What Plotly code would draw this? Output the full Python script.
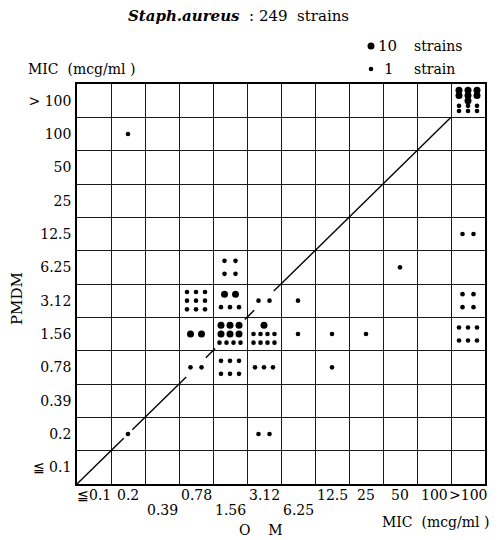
import plotly.graph_objects as go

# MIC levels (mcg/ml) shared by both axes, lowest first
mic_levels = ["≦0.1", "0.2", "0.39", "0.78", "1.56", "3.12", "6.25",
              "12.5", "25", "50", "100", ">100"]
x_tick_labels = ["≦0.1", "0.2", "0.39", "0.78", "1.56", "3.12", "6.25",
                 "12.5", "25", "50", "100", ">100"]
y_tick_labels = ["≦ 0.1", "0.2", "0.39", "0.78", "1.56", "3.12", "6.25",
                 "12.5", "25", "50", "100", "> 100"]

# one entry per occupied cell: OM MIC, PMDM MIC, number of strains
om_mic = ["0.2", "0.2", "3.12", "1.56", "0.78", "1.56", "3.12", "6.25", "50",
          ">100", ">100", "0.78", "1.56", "3.12", "6.25", "12.5", "25", ">100",
          "0.78", "1.56", "3.12", "12.5", ">100"]
pmdm_mic = ["100", "0.2", "0.2", "6.25", "3.12", "3.12", "3.12", "3.12", "6.25",
            "12.5", "3.12", "1.56", "1.56", "1.56", "1.56", "1.56", "1.56", "1.56",
            "0.78", "0.78", "0.78", "0.78", ">100"]
strains = [1, 1, 2, 4, 9, 23, 2, 1, 1,
           2, 4, 20, 64, 18, 1, 1, 1, 6,
           2, 6, 3, 1, 76]

# geometry of the plotting area (px)
W, H = 501, 540
L, R, T, B = 77, 16, 84, 56
PLOT_W = W - L - R
PLOT_H = H - T - B
N = len(mic_levels)
CELL_W = PLOT_W / N
CELL_H = PLOT_H / N

BIG, SMALL = 7.0, 4.6      # marker diameters: 10 strains / 1 strain
H_PITCH = {1: 0, 2: 11, 3: 9, 4: 7}


def dot_rows(n):
    big, small = divmod(n, 10)
    rows = []
    for i in range(0, big, 3):
        rows.append(("big", min(3, big - i)))
    if small:
        if big:
            per = 4 if small in (4, 8) else 3
        else:
            per = 2 if small == 4 else 3
        for i in range(0, small, per):
            rows.append(("small", min(per, small - i)))
    return rows


def dot_offsets(n):
    rows = dot_rows(n)
    pitch = 26 / len(rows)
    out = []
    for r, (kind, k) in enumerate(rows):
        dy = ((len(rows) - 1) / 2 - r) * pitch
        for j in range(k):
            dx = (j - (k - 1) / 2) * H_PITCH[k]
            out.append((kind, dx, dy))
    return out


big_x, big_y, small_x, small_y = [], [], [], []
diag_gaps = {}
for om, pm, n in zip(om_mic, pmdm_mic, strains):
    cx, cy = mic_levels.index(om), mic_levels.index(pm)
    offs = dot_offsets(n)
    for kind, dx, dy in offs:
        if kind == "big":
            big_x.append(cx + dx / CELL_W)
            big_y.append(cy + dy / CELL_H)
        else:
            small_x.append(cx + dx / CELL_W)
            small_y.append(cy + dy / CELL_H)
    if cx == cy:
        half = max(abs(dx) + (BIG if k == "big" else SMALL) / 2 for k, dx, _ in offs) + 2
        diag_gaps[cx] = half / CELL_W

# line of equal MIC, interrupted where it would run through dots
lo, hi = -0.5, N - 1.5
line_x, line_y = [], []
start = lo
for c in sorted(diag_gaps):
    if c - diag_gaps[c] >= hi:
        break
    line_x += [start, c - diag_gaps[c], None]
    line_y += [start, c - diag_gaps[c], None]
    start = c + diag_gaps[c]
line_x += [start, hi]
line_y += [start, hi]

fig = go.Figure()
fig.add_trace(go.Scatter(x=line_x, y=line_y, mode="lines",
                         line=dict(color="black", width=1.4),
                         hoverinfo="skip"))
fig.add_trace(go.Scatter(x=big_x, y=big_y, mode="markers",
                         marker=dict(size=BIG, color="black", line=dict(width=0)),
                         name="10 strains"))
fig.add_trace(go.Scatter(x=small_x, y=small_y, mode="markers",
                         marker=dict(size=SMALL, color="black", line=dict(width=0)),
                         name="1 strain"))

serif = "DejaVu Serif"
axis_common = dict(range=[-0.5, N - 0.5], tickmode="array", tickvals=list(range(N)),
                   ticks="", showgrid=False, zeroline=False,
                   showline=True, mirror=True, linecolor="black", linewidth=1.6,
                   tickfont=dict(family=serif, size=14, color="black"),
                   minor=dict(tickmode="linear", tick0=-0.5, dtick=1, showgrid=True,
                              gridcolor="#1a1a1a", gridwidth=1, ticks=""),
                   fixedrange=True)
fig.update_xaxes(showticklabels=False, **axis_common)
fig.update_yaxes(ticktext=y_tick_labels, ticklabelstandoff=1, **axis_common)


def px_x(p):
    return (p - L) / PLOT_W


def px_y(p):
    return (H - B - p) / PLOT_H


def note(text, x, y, size=14, xanchor="center", angle=0, xref="paper"):
    fig.add_annotation(text=text, x=x if xref == "x" else px_x(x), y=px_y(y),
                       xref=xref, yref="paper",
                       xanchor=xanchor, yanchor="middle", showarrow=False,
                       textangle=angle,
                       font=dict(family=serif, size=size, color="black"))


# OM labels under the columns, alternating between two rows where they would crowd
stagger = {2, 4, 6}
for i, t in enumerate(x_tick_labels):
    note(t, i, 510 if i in stagger else 495, size=14, xref="x")

note("<b><i>Staph.aureus</i></b>  : 249  strains", 238, 16, size=15)
note("MIC  (mcg/ml )", 26, 69, size=14, xanchor="left")
note("10", 376, 46, size=15, xanchor="left")
note("strains", 412, 46, size=14, xanchor="left")
note("1", 382, 69, size=15, xanchor="left")
note("strain", 412, 69, size=14, xanchor="left")
note("MIC  (mcg/ml )", 491, 522, size=14, xanchor="right")
note("O    M", 261, 530, size=14)
note("PMDM", 17, 299, size=15, angle=-90)

# key dots beside the strain counts
for yy, d in ((46, BIG), (69, SMALL)):
    fig.add_shape(type="circle", xref="paper", yref="paper",
                  xsizemode="pixel", ysizemode="pixel",
                  xanchor=px_x(371), yanchor=px_y(yy),
                  x0=-d / 2, x1=d / 2, y0=-d / 2, y1=d / 2,
                  fillcolor="black", line=dict(width=0))

fig.update_layout(width=W, height=H, margin=dict(l=L, r=R, t=T, b=B),
                  plot_bgcolor="white", paper_bgcolor="white", showlegend=False,
                  font=dict(family=serif, color="black"))

fig.write_html("out.html")
